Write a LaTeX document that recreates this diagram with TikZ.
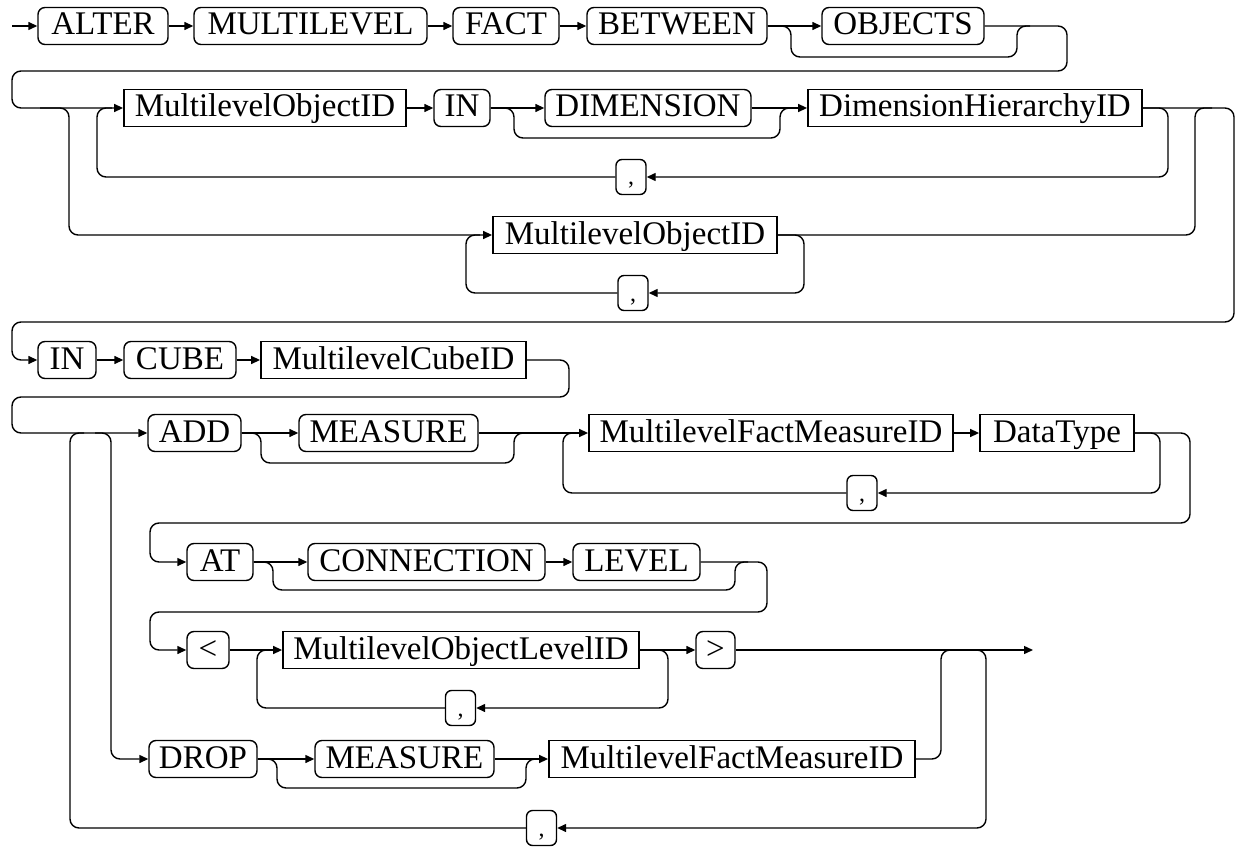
\documentclass[tikz,border=0pt]{standalone}
\usepackage{fontspec}
\setmainfont{Liberation Serif}
\usetikzlibrary{arrows.meta}
\newcommand\diagfont{\fontsize{33}{36}\selectfont}
\newcommand\commafont{\fontsize{24}{26}\selectfont}
\begin{document}
\begin{tikzpicture}[x=1pt,y=-1pt,
  wire/.style={line width=1.4pt, line join=round},
  arr/.style={wire, -{Triangle[length=9pt,width=8pt]}},
  track/.style={wire, rounded corners=9pt},
  trackarr/.style={arr, rounded corners=9pt},
  kw/.style={draw, line width=1.4pt, rounded corners=7pt, minimum height=37pt,
    inner sep=0pt, text height=23pt, text depth=5pt, font=\diagfont},
  nt/.style={draw, line width=1.8pt, minimum height=37pt,
    inner sep=0pt, text height=23pt, text depth=5pt, font=\diagfont},
  commabox/.style={draw, line width=1.4pt, rounded corners=6pt, minimum width=30pt,
    minimum height=35pt, inner sep=0pt, text height=20pt, text depth=4pt, font=\commafont}]
\useasboundingbox (0,0) rectangle (1241,850);

% ---------- row 1: ALTER MULTILEVEL FACT BETWEEN [OBJECTS]
\node[kw, minimum width=130pt] (alter)      at (103,26)   {ALTER};
\node[kw, minimum width=233pt] (multilevel) at (310.5,26) {MULTILEVEL};
\node[kw, minimum width=106pt] (fact)       at (506,26)   {FACT};
\node[kw, minimum width=180pt] (between)    at (677,26)   {BETWEEN};
\node[kw, minimum width=162pt] (objects)    at (903,26)   {OBJECTS};

% ---------- row 2: object list with dimension hierarchy
\node[nt, minimum width=282pt] (moid)      at (265,108) {MultilevelObjectID};
\node[kw, minimum width=56pt]  (in1)       at (462,108) {IN};
\node[kw, minimum width=206pt] (dimension) at (648,108) {DIMENSION};
\node[nt, minimum width=334pt] (dhid)      at (975,108) {DimensionHierarchyID};
\node[commabox] (comma1) at (631,177) {,};

% ---------- alternative: plain object list
\node[nt, minimum width=284pt] (moid2) at (635,235) {MultilevelObjectID};
\node[commabox] (comma2) at (633,293) {,};

% ---------- row 3: IN CUBE
\node[kw, minimum width=58pt]  (in2)  at (67,360)    {IN};
\node[kw, minimum width=112pt] (cube) at (180,360)   {CUBE};
\node[nt, minimum width=265pt] (mcid) at (393.5,360) {MultilevelCubeID};

% ---------- row 4: ADD [MEASURE] measure list
\node[kw, minimum width=93pt]  (add)      at (194.5,433) {ADD};
\node[kw, minimum width=179pt] (measure1) at (388.5,433) {MEASURE};
\node[nt, minimum width=364pt] (mfmid1)   at (771,433)   {MultilevelFactMeasureID};
\node[nt, minimum width=154pt] (datatype) at (1057,433)  {DataType};
\node[commabox] (comma3) at (862,493) {,};

% ---------- row 5: AT [CONNECTION LEVEL]
\node[kw, minimum width=66pt]  (at)         at (220,562)   {AT};
\node[kw, minimum width=237pt] (connection) at (426.5,562) {CONNECTION};
\node[kw, minimum width=127pt] (level)      at (636.5,562) {LEVEL};

% ---------- row 6: < level list >
\node[kw, minimum width=42pt]  (lt)    at (208,650)   {<};
\node[nt, minimum width=356pt] (molid) at (461,650)   {MultilevelObjectLevelID};
\node[kw, minimum width=39pt]  (gt)    at (715.5,650) {>};
\node[commabox] (comma4) at (460.5,708) {,};
\coordinate (finish) at (1033,650);

% ---------- DROP [MEASURE] MultilevelFactMeasureID
\node[kw, minimum width=108pt] (drop)     at (203,759)   {DROP};
\node[kw, minimum width=179pt] (measure2) at (404.5,759) {MEASURE};
\node[nt, minimum width=366pt] (mfmid2)   at (732,759)   {MultilevelFactMeasureID};
\node[commabox] (commab) at (541.5,828) {,};

% ---------- connectors, row 1
\coordinate (start) at (12,26);
\draw[arr] (start) -- (alter.west);
\draw[arr] (alter.east) -- (multilevel.west);
\draw[arr] (multilevel.east) -- (fact.west);
\draw[arr] (fact.east) -- (between.west);
\draw[arr] (between.east) -- (objects.west);
\draw[track] (between.east) -- (791,26) -- (791,57) -- (1017,57) -- (1017,26) -- (1030,26);
\draw[trackarr] (objects.east) -- (1067,26) -- (1067,71) -- (12,71) -- (12,108) -- (moid.west);

% ---------- connectors, row 2 and its alternative
\draw[arr] (moid.east) -- (in1.west);
\draw[arr] (in1.east) -- (dimension.west);
\draw[track] (in1.east) -- (514,108) -- (514,138) -- (780,138) -- (780,108) -- (793,108);
\draw[arr] (dimension.east) -- (dhid.west);
\draw[trackarr] (dhid.east) -- (1168,108) -- (1168,177) -- (comma1.east);
\draw[track] (comma1.west) -- (97,177) -- (97,108) -- (112,108);
\draw[trackarr] (40,108) -- (69,108) -- (69,235) -- (moid2.west);
\draw[trackarr] (moid2.east) -- (804,235) -- (804,293) -- (comma2.east);
\draw[track] (comma2.west) -- (466,293) -- (466,235) -- (480,235);
\draw[track] (moid2.east) -- (1195,235) -- (1195,108) -- (1212,108);
\draw[trackarr] (dhid.east) -- (1234,108) -- (1234,322) -- (12,322) -- (12,360) -- (in2.west);

% ---------- connectors, row 3
\draw[arr] (in2.east) -- (cube.west);
\draw[arr] (cube.east) -- (mcid.west);
\draw[trackarr] (mcid.east) -- (569,360) -- (569,397) -- (12,397) -- (12,433) -- (add.west);

% ---------- connectors, row 4
\draw[arr] (add.east) -- (measure1.west);
\draw[track] (add.east) -- (261,433) -- (261,463) -- (514,463) -- (514,433) -- (527,433);
\draw[arr] (measure1.east) -- (mfmid1.west);
\draw[arr] (mfmid1.east) -- (datatype.west);
\draw[trackarr] (datatype.east) -- (1160,433) -- (1160,493) -- (comma3.east);
\draw[track] (comma3.west) -- (563,493) -- (563,433) -- (576,433);
\draw[trackarr] (datatype.east) -- (1190,433) -- (1190,523) -- (150,523) -- (150,562) -- (at.west);
\draw[trackarr] (95,433) -- (111,433) -- (111,759) -- (drop.west);
\draw[track] (commab.west) -- (70,828) -- (70,433) -- (84,433);

% ---------- connectors, row 5
\draw[arr] (at.east) -- (connection.west);
\draw[track] (at.east) -- (273,562) -- (273,590) -- (735,590) -- (735,562) -- (748,562);
\draw[arr] (connection.east) -- (level.west);
\draw[trackarr] (level.east) -- (767,562) -- (767,612) -- (150,612) -- (150,650) -- (lt.west);

% ---------- connectors, row 6
\draw[arr] (lt.east) -- (molid.west);
\draw[arr] (molid.east) -- (gt.west);
\draw[trackarr] (molid.east) -- (668,650) -- (668,708) -- (comma4.east);
\draw[track] (comma4.west) -- (257,708) -- (257,650) -- (270,650);
\draw[arr] (gt.east) -- (finish);

% ---------- connectors, DROP branch and outer repetition
\draw[arr] (drop.east) -- (measure2.west);
\draw[track] (drop.east) -- (277,759) -- (277,788) -- (526,788) -- (526,759) -- (538,759);
\draw[arr] (measure2.east) -- (mfmid2.west);
\draw[track] (mfmid2.east) -- (941,759) -- (941,650) -- (955,650);
\draw[trackarr] (970,650) -- (986,650) -- (986,828) -- (commab.east);
\end{tikzpicture}
\end{document}
